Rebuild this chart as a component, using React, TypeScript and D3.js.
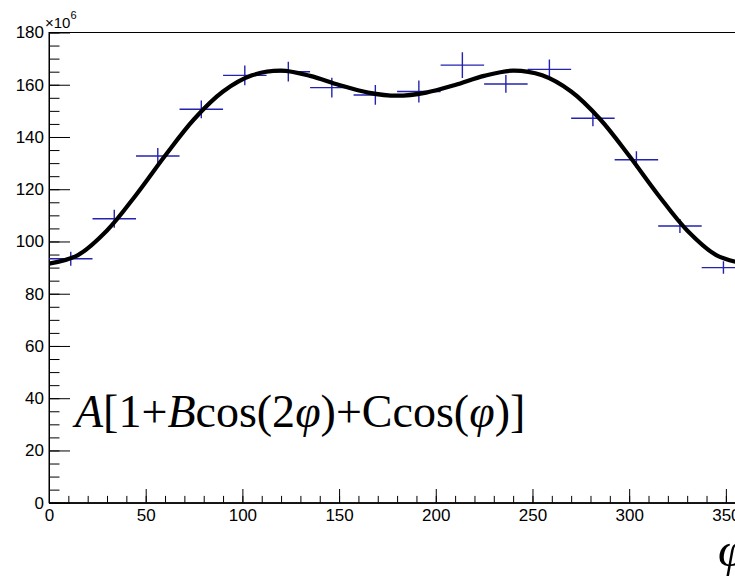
import React, { useEffect, useRef } from "react";
import * as d3 from "d3";

// histogram bins (phi in degrees), contents in units of 10^6
const binCenters = [11.25, 33.75, 56.25, 78.75, 101.25, 123.75, 146.25, 168.75, 191.25, 213.75, 236.25, 258.75, 281.25, 303.75, 326.25, 348.75];
const binWidth = 22.5;
const counts = [93.4, 108.7, 132.7, 150.6, 163.6, 165.0, 158.9, 156.1, 157.4, 167.5, 160.3, 165.9, 147.2, 131.3, 105.9, 90.0];
const errors = [2.7, 3.4, 3.1, 3.4, 3.8, 3.8, 3.8, 3.8, 4.2, 4.9, 3.4, 3.8, 3.1, 3.2, 2.7, 2.4];

// fit curve
const fitPhi = [0, 15, 30, 45, 60, 75, 90, 105, 120, 135, 150, 165, 180, 195, 210, 225, 240, 255, 270, 285, 300, 315, 330, 345, 360];
const fitValues = [91.5, 94.8, 104.2, 117.8, 132.8, 146.8, 157.4, 163.6, 165.4, 163.4, 159.9, 157.0, 155.8, 157.0, 159.9, 163.4, 165.4, 163.6, 157.4, 146.8, 132.8, 117.8, 104.2, 94.8, 91.5];

const xTicks = [0, 50, 100, 150, 200, 250, 300, 350];
const xMinorTicks = d3.range(0, 361, 10);
const yTicks = [0, 20, 40, 60, 80, 100, 120, 140, 160, 180];
const yMinorTicks = d3.range(0, 181, 5);

const W = 735;
const H = 583;

const App = () => {
  const svgRef = useRef<SVGSVGElement>(null);

  useEffect(() => {
    const svg = d3.select(svgRef.current);
    svg.selectAll("*").remove();

    const left = 49;
    const right = 745.2;
    const top = 32.5;
    const bottom = 502.7;

    const x = d3.scaleLinear().domain([0, 360]).range([left, right]);
    const y = d3.scaleLinear().domain([0, 180]).range([bottom, top]);

    svg
      .append("clipPath")
      .attr("id", "frame")
      .append("rect")
      .attr("x", left)
      .attr("y", top)
      .attr("width", right - left)
      .attr("height", bottom - top);

    // frame
    svg
      .append("rect")
      .attr("x", left)
      .attr("y", top)
      .attr("width", right - left)
      .attr("height", bottom - top)
      .attr("fill", "none")
      .attr("stroke", "#000")
      .attr("stroke-width", 1);

    const font = "'Liberation Sans', Arial, sans-serif";

    // y axis
    const yMinor = svg.append("g").attr("transform", `translate(${left},0)`);
    yMinor.call(d3.axisLeft(y).tickValues(yMinorTicks).tickFormat(() => "").tickSizeInner(-10.5).tickSizeOuter(0));
    const yMajor = svg.append("g").attr("transform", `translate(${left},0)`);
    yMajor.call(d3.axisLeft(y).tickValues(yTicks).tickSizeInner(-21).tickSizeOuter(0).tickPadding(5));

    // x axis
    const xMinor = svg.append("g").attr("transform", `translate(0,${bottom})`);
    xMinor.call(d3.axisBottom(x).tickValues(xMinorTicks).tickFormat(() => "").tickSizeInner(-6.8).tickSizeOuter(0));
    const xMajor = svg.append("g").attr("transform", `translate(0,${bottom})`);
    xMajor.call(d3.axisBottom(x).tickValues(xTicks).tickSizeInner(-13.7).tickSizeOuter(0).tickPadding(6));

    svg.selectAll(".tick line").attr("stroke", "#000");
    svg.selectAll(".domain").attr("stroke", "#000");
    svg
      .selectAll(".tick text")
      .attr("font-family", font)
      .attr("font-size", 17)
      .attr("fill", "#000");

    // exponent label
    const ex = svg
      .append("text")
      .attr("x", 45)
      .attr("y", 28)
      .attr("font-family", font)
      .attr("font-size", 15);
    ex.append("tspan").text("×10");
    ex.append("tspan").attr("dy", -9).attr("font-size", 11).text("6");

    const plot = svg.append("g").attr("clip-path", "url(#frame)");

    // data crosses
    const blue = "#2323b0";
    binCenters.forEach((c, i) => {
      plot
        .append("line")
        .attr("x1", x(c - binWidth / 2))
        .attr("x2", x(c + binWidth / 2))
        .attr("y1", y(counts[i]))
        .attr("y2", y(counts[i]))
        .attr("stroke", blue)
        .attr("stroke-width", 1.4);
      plot
        .append("line")
        .attr("x1", x(c))
        .attr("x2", x(c))
        .attr("y1", y(counts[i] - errors[i]))
        .attr("y2", y(counts[i] + errors[i]))
        .attr("stroke", blue)
        .attr("stroke-width", 1.4);
    });

    // fit curve
    const line = d3
      .line<number>()
      .x((d, i) => x(fitPhi[i]))
      .y((d) => y(d))
      .curve(d3.curveCatmullRom);
    plot
      .append("path")
      .attr("d", line(fitValues))
      .attr("fill", "none")
      .attr("stroke", "#000")
      .attr("stroke-width", 4.2);

    // formula
    const serif = "'Liberation Serif', 'Times New Roman', serif";
    const f = svg
      .append("text")
      .attr("x", 75)
      .attr("y", 427)
      .attr("font-family", serif)
      .attr("font-size", 46)
      .attr("fill", "#000");
    f.append("tspan").attr("font-style", "italic").text("A");
    f.append("tspan").text("[1+");
    f.append("tspan").attr("font-style", "italic").text("B");
    f.append("tspan").text("cos(2");
    f.append("tspan").attr("font-style", "italic").text("φ");
    f.append("tspan").text(")+Ccos(");
    f.append("tspan").attr("font-style", "italic").text("φ");
    f.append("tspan").text(")]");

    // axis title
    svg
      .append("text")
      .attr("x", 745)
      .attr("y", 566)
      .attr("text-anchor", "end")
      .attr("font-family", serif)
      .attr("font-style", "italic")
      .attr("font-size", 49)
      .text("φ");
  }, []);

  return (
    <svg
      ref={svgRef}
      width={W}
      height={H}
      style={{ position: "absolute", left: 0, top: 0, background: "#fff" }}
    ></svg>
  );
};

export default App;
